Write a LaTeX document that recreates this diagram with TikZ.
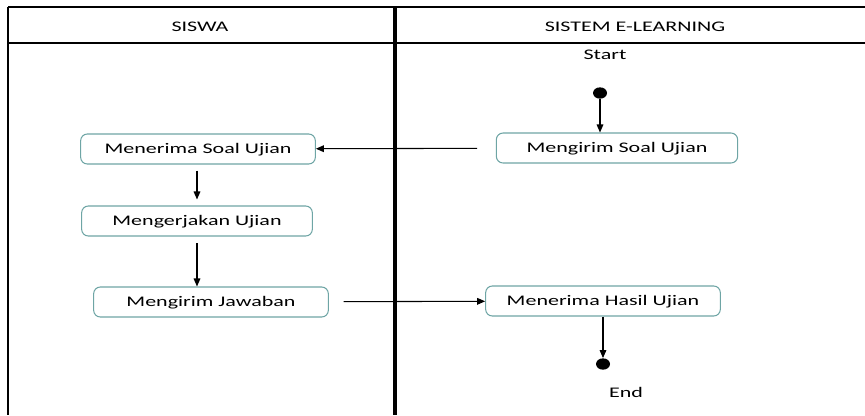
\documentclass[tikz,border=0pt]{standalone}
\usepackage{fontspec}
\setmainfont{Carlito}[FakeStretch=1.5]
\usepackage{xcolor}
\usepackage{tikz}
\usetikzlibrary{shapes, arrows.meta, positioning}
\definecolor{boxline}{RGB}{110,165,165}

\begin{document}
\begin{tikzpicture}
  [
    x=0.75pt, y=-0.75pt,
    font=\fontsize{11}{13}\selectfont,
    Act/.style={rectangle, rounded corners=5pt, draw=boxline, line width=0.8pt,
      text height=7pt, text depth=0pt, minimum width=176pt, minimum height=22.5pt},
    Dot/.style={ellipse, fill=black, inner sep=0pt, minimum width=10.5pt, minimum height=8.5pt},
    Flow/.style={-{Triangle[length=6pt, width=5pt]}, draw, line width=0.8pt}
  ]
  \useasboundingbox (0,0) rectangle (865,415);
  % Swimlanes
  \coordinate (tl) at (8,7);
  \coordinate (tr) at (865,7);
  \coordinate (hl) at (8,43);
  \coordinate (hr) at (865,43);
  \coordinate (bl) at (8,415);
  \coordinate (mt) at (395,7);
  \coordinate (mb) at (395,415);
  \draw[line width=2.2pt] (tl) -- (tr);
  \draw[line width=1.2pt] (tl) -- (bl);
  \draw[line width=1.5pt] (hl) -- (hr);
  \draw[line width=2.6pt] (mt) -- (mb);
  \node (siswa) at (200,27) {SISWA};
  \node (sistem) at (635,27) {SISTEM E-LEARNING};
  % Nodes
  \node (startlbl) at (605,55) {Start};
  \node[Dot] (start) at (600,93) {};
  \node[Act, minimum width=181pt] (kirimsoal) at (617,148) {Mengirim Soal Ujian};
  \node[Act] (terimasoal) at (198,149) {Menerima Soal Ujian};
  \node[Act, minimum width=173pt] (kerjakan) at (197,221) {Mengerjakan Ujian};
  \node[Act] (jawaban) at (211,302) {Mengirim Jawaban};
  \node[Act] (hasil) at (603,301) {Menerima Hasil Ujian};
  \node[Dot] (end) at (603,364) {};
  \node (endlbl) at (626,392) {End};
  % Lines
  \path [Flow] (start) -- (start |- kirimsoal.north);
  \path [Flow, shorten <=14pt] (kirimsoal) -- (terimasoal);
  \path [Flow, shorten <=4.5pt, shorten >=4.5pt] (kerjakan.north |- terimasoal.south) -- (kerjakan.north);
  \path [Flow, shorten <=5pt] (kerjakan.south) -- (kerjakan.south |- jawaban.north);
  \path [Flow, shorten <=11pt] (jawaban) -- (hasil);
  \path [Flow] (hasil) -- (end);
\end{tikzpicture}
\end{document}
